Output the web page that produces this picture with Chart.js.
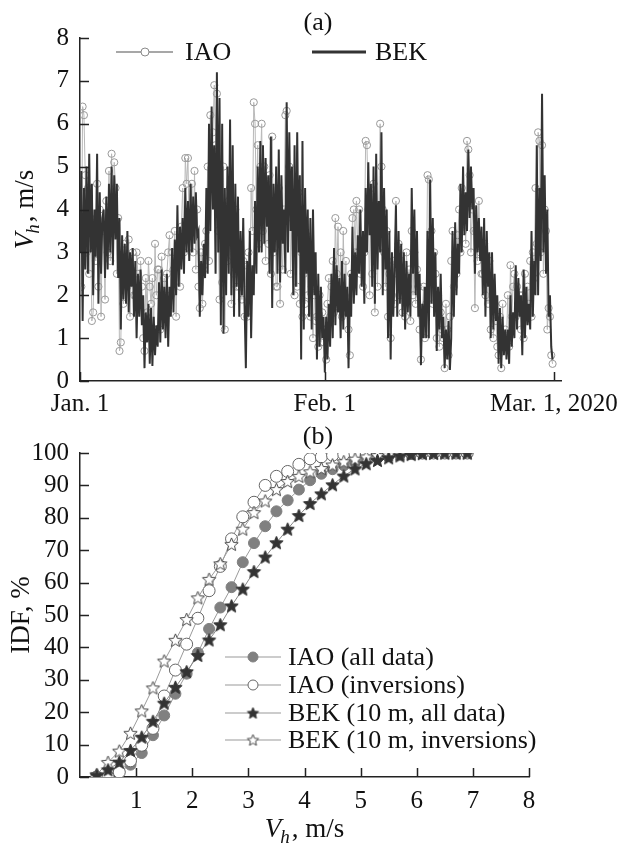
<!DOCTYPE html>
<html>
<head>
<meta charset="utf-8">
<script src="https://cdn.jsdelivr.net/npm/chart.js@4.4.1/dist/chart.umd.min.js"></script>
<style>
    html, body { margin: 0; padding: 0; background: #fff; }
    #wrap { position: relative; width: 623px; height: 844px; }
    canvas { position: absolute; left: 0; }
    #chartA { top: 0; }
    #chartB { top: 420px; }
</style>
</head>
<body>
<div id="wrap">
    <canvas id="chartA" width="623" height="420"></canvas>
    <canvas id="chartB" width="623" height="424"></canvas>
</div>
<script>
// ---- (a) time series, 6 samples per day from Jan 1 ----
const samplesPerDay = 6;
const dateTickDays = [0, 31, 60];
const dateTickLabels = ['Jan. 1', 'Feb. 1', 'Mar. 1, 2020'];

// one row = 2 days
const bekSpeed = [
    3.0,4.9,1.4,4.5,2.6,5.0, 2.5,5.3,3.0,4.6,2.0,4.0,
    2.9,5.3,1.8,4.4,2.5,3.8, 4.0,2.4,4.3,2.6,4.6,3.0,
    5.0,2.7,4.8,3.3,4.6,2.4, 3.8,1.2,3.4,1.9,3.2,1.8,
    3.5,1.6,3.0,2.2,3.1,1.5, 2.8,1.0,2.5,1.5,2.6,1.3,
    2.0,0.3,1.6,0.9,1.8,0.4, 1.7,0.35,1.5,0.6,1.3,0.8,
    2.3,0.9,2.6,1.2,2.2,1.0, 2.5,0.8,2.2,1.5,3.1,1.6,
    3.3,2.0,4.1,2.2,3.6,2.6, 3.8,2.5,4.5,3.0,4.2,2.8,
    4.6,3.0,4.3,3.2,4.4,3.4, 3.5,1.5,2.8,2.0,3.2,2.4,
    4.5,2.5,6.0,3.5,6.4,4.0, 5.5,2.5,7.2,3.0,6.6,1.3,
    6.0,1.1,4.5,2.0,5.0,2.5, 6.1,2.0,5.5,1.5,4.6,2.2,
    4.3,1.5,3.5,2.0,3.8,1.8, 0.3,2.8,1.5,3.5,1.0,2.7,
    2.0,4.2,2.5,5.0,3.0,5.6, 3.0,5.5,3.2,5.2,3.6,4.8,
    2.5,5.7,1.7,4.6,3.0,5.0, 2.5,5.4,2.3,4.8,3.2,4.0,
    2.5,6.5,3.0,5.8,3.5,5.0, 2.0,5.5,2.2,5.8,3.0,4.8,
    0.5,5.6,1.2,4.5,2.5,4.0, 1.5,3.8,1.2,4.0,2.0,3.0,
    0.5,2.5,0.8,2.2,1.0,1.5, 0.2,1.5,0.5,1.8,0.8,2.5,
    1.0,3.1,1.3,2.7,1.6,2.4, 1.0,2.8,1.2,2.5,1.5,2.2,
    0.3,2.5,1.5,3.6,1.8,3.0, 2.0,3.4,2.5,4.0,2.2,3.5,
    1.8,4.5,3.0,5.1,3.4,4.6, 2.2,5.0,1.8,5.3,2.6,4.2,
    3.0,5.8,2.0,4.5,2.6,4.0, 1.0,3.5,0.5,3.0,1.5,2.6,
    4.1,1.5,3.5,1.8,3.2,1.5, 3.0,1.2,2.8,1.6,2.5,1.5,
    4.5,2.5,4.0,2.0,3.5,1.5, 2.5,0.37,1.8,1.0,2.2,1.0,
    3.5,1.0,4.7,1.8,3.8,1.5, 3.0,0.7,2.2,1.2,2.5,1.0,
    1.5,0.3,1.2,0.5,1.4,0.26, 1.0,3.5,1.5,3.7,2.0,3.2,
    2.5,4.6,3.0,5.0,3.4,4.4, 3.5,5.4,3.8,5.0,4.0,4.5,
    2.5,4.1,3.0,3.8,2.8,3.6, 2.0,3.8,1.5,3.5,2.2,3.0,
    1.0,3.0,1.2,2.5,1.4,2.0, 0.4,1.7,0.3,1.5,0.6,1.2,
    0.5,1.2,0.4,2.0,0.8,1.6, 1.0,2.7,1.2,2.4,1.5,2.0,
    0.6,2.6,1.0,2.2,1.3,1.8, 1.2,3.5,1.5,2.8,2.0,5.5,
    2.0,4.5,2.8,6.7,3.0,4.8, 2.5,4.0,1.5,2.0,0.8,0.5
];

const iaoSpeed = [
    3.5,2.2,6.4,6.2,4.8,3.0, 4.5,2.5,3.8,1.4,1.6,3.5,
    2.8,4.6,2.2,4.0,1.5,3.6, 3.5,1.9,4.2,3.0,4.9,2.8,
    5.3,3.5,5.1,4.5,2.5,3.8, 0.7,0.9,2.8,1.8,3.2,2.4,
    2.2,3.3,1.5,2.6,3.0,2.0, 2.0,3.0,2.5,1.8,2.8,2.2,
    1.0,0.7,2.4,1.6,2.8,2.2, 1.8,2.4,1.2,3.2,2.0,2.6,
    2.6,1.2,2.9,2.0,2.4,1.6, 2.5,3.0,3.4,2.0,3.0,2.6,
    3.5,1.5,2.8,3.2,2.2,3.6, 4.5,3.0,5.2,4.6,5.2,3.4,
    3.8,4.6,3.0,4.9,2.6,4.0, 2.2,1.7,3.0,1.8,2.6,3.2,
    3.5,5.0,2.8,6.2,4.5,5.8, 6.9,5.5,6.7,3.5,1.9,4.0,
    2.3,5.0,1.2,3.5,2.8,4.2, 4.5,1.8,3.8,2.5,4.0,2.2,
    3.0,2.2,2.5,1.9,2.8,1.5, 2.7,1.5,3.0,2.2,4.5,3.5,
    6.5,6.0,4.0,5.5,3.2,5.0, 6.0,3.5,5.0,2.8,4.6,3.2,
    4.8,2.5,5.7,3.0,4.2,2.2, 2.2,4.5,1.8,3.5,2.6,4.0,
    6.2,6.3,4.0,5.0,2.5,3.8, 4.0,2.0,3.5,2.2,4.4,1.8,
    3.0,1.5,2.5,1.8,3.4,2.0, 2.6,1.5,2.2,1.0,2.0,1.4,
    1.5,0.8,2.0,0.9,1.6,1.2, 1.2,0.5,1.8,2.4,1.5,2.2,
    2.8,1.6,3.8,2.5,3.6,2.0, 3.0,1.5,3.5,2.0,2.8,1.6,
    1.2,0.6,2.5,3.8,4.0,3.0, 4.2,3.0,4.0,2.5,3.2,2.2,
    3.0,5.6,5.5,4.0,2.0,4.5, 2.5,4.6,1.6,3.5,2.2,4.0,
    6.0,5.0,4.0,3.0,2.2,3.5, 1.5,2.5,1.0,2.0,2.8,1.8,
    4.2,2.5,3.2,2.0,2.8,1.6, 2.5,1.5,3.0,2.2,2.6,1.4,
    3.5,2.0,3.0,1.8,2.6,2.2, 1.2,0.5,1.5,2.2,1.0,1.8,
    4.8,4.7,2.5,3.5,1.8,3.0, 2.5,1.0,2.0,0.8,1.6,1.2,
    1.0,0.3,1.8,1.2,0.6,1.5, 2.8,3.5,2.2,3.0,2.5,3.4,
    4.0,3.0,4.5,3.5,4.2,3.2, 5.6,5.4,4.8,3.0,4.0,3.5,
    1.7,3.5,2.8,4.2,3.0,2.5, 2.5,3.2,2.0,2.5,1.8,2.8,
    1.2,2.0,1.0,1.8,1.4,0.8, 0.6,1.5,0.3,1.8,0.8,1.2,
    1.0,2.0,0.8,2.7,1.5,2.2, 2.5,1.5,2.2,1.8,2.0,1.2,
    2.0,1.0,2.5,1.5,2.2,1.8, 2.8,1.5,3.0,2.4,4.5,3.2,
    5.8,5.6,3.0,5.5,2.5,4.0, 3.5,1.2,1.7,1.5,0.6,0.4
];

// ---- (b) IDF curves ----
const idfSpeed = [0.3,0.5,0.7,0.9,1.1,1.3,1.5,1.7,1.9,2.1,2.3,2.5,2.7,2.9,3.1,3.3,3.5,
                  3.7,3.9,4.1,4.3,4.5,4.7,4.9,5.1,5.3,5.5,5.7,5.9,6.1,6.3,6.5,6.7,6.9];
const idfIaoAll = [0.2,0.5,1.5,3.8,7.4,12.9,19.0,25.7,31.9,38.3,45.7,52.3,58.6,66.3,72.2,77.4,82.0,
                   85.4,88.7,91.6,93.6,95.0,96.2,97.2,98.0,98.6,99.1,99.5,99.7,99.9,100,100,100,100];
const idfIaoInv = [0,0,1.5,5.0,9.8,15.0,25.0,33.0,41.0,49.0,57.5,65.0,73.5,80.3,84.8,90.0,92.8,
                   94.3,96.5,98.2,98.8,99.3,99.6,99.8,100,100,100,100,100,100,100,100,100,100];
const idfBekAll = [0.5,2.2,4.6,8.2,12.3,17.2,22.8,27.7,32.5,37.5,42.3,47.0,52.8,58.0,63.4,67.9,72.3,
                   76.5,80.7,84.4,87.4,90.2,92.9,95.1,96.7,97.7,98.5,99.1,99.5,99.8,99.9,100,100,100];
const idfBekInv = [0.8,4.5,8.0,13.5,20.4,27.5,35.8,42.2,48.6,55.3,61.0,65.8,71.8,76.5,81.6,85.2,88.7,
                   91.2,92.8,94.2,95.2,96.3,97.3,98.1,98.8,99.2,99.5,99.7,99.9,100,100,100,100,100];
const idfLabels = ['IAO (all data)', 'IAO (inversions)', 'BEK (10 m, all data)', 'BEK (10 m, inversions)'];

const SERIF = '"Liberation Serif", "Times New Roman", serif';
const TEXT = '#111';
const AXIS = '#222';

function makeStar(r, fill, stroke) {
    const c = document.createElement('canvas');
    const s = Math.ceil(r * 2 + 3);
    c.width = s; c.height = s;
    const g = c.getContext('2d');
    g.translate(s / 2, s / 2 + 0.5);
    g.beginPath();
    for (let i = 0; i < 10; i++) {
        const rad = i % 2 === 0 ? r : r * 0.45;
        const a = -Math.PI / 2 + i * Math.PI / 5;
        g.lineTo(rad * Math.cos(a), rad * Math.sin(a));
    }
    g.closePath();
    g.fillStyle = fill;
    g.fill();
    g.lineWidth = 1;
    g.strokeStyle = stroke;
    g.stroke();
    return c;
}
const starFull = makeStar(7, '#333', '#333');
const starOpen = makeStar(7, '#fff', '#444');
const starFullSmall = makeStar(6, '#333', '#333');
const starOpenSmall = makeStar(6, '#fff', '#444');

function drawVh(ctx, cx, cy, rotated) {
    ctx.save();
    ctx.translate(cx, cy);
    if (rotated) ctx.rotate(-Math.PI / 2);
    const fBig = 'italic 27px ' + SERIF;
    const fSub = 'italic 19px ' + SERIF;
    const fReg = '27px ' + SERIF;
    ctx.font = fBig; const w1 = ctx.measureText('V').width;
    ctx.font = fSub; const w2 = ctx.measureText('h').width;
    ctx.font = fReg; const w3 = ctx.measureText(', m/s').width;
    let x0 = -(w1 + w2 + w3 + 1) / 2;
    ctx.fillStyle = TEXT;
    ctx.textAlign = 'left';
    ctx.textBaseline = 'alphabetic';
    ctx.font = fBig; ctx.fillText('V', x0, 9); x0 += w1;
    ctx.font = fSub; ctx.fillText('h', x0 - 1, 15); x0 += w2 + 1;
    ctx.font = fReg; ctx.fillText(', m/s', x0, 9);
    ctx.restore();
}

function drawInwardTicks(ctx, area, xs, ys) {
    ctx.save();
    ctx.strokeStyle = AXIS;
    ctx.lineWidth = 1.5;
    ctx.beginPath();
    ys.ticks.forEach(t => {
        const py = Math.round(ys.getPixelForValue(t.value)) + 0.5;
        ctx.moveTo(area.left, py);
        ctx.lineTo(area.left + 9, py);
    });
    xs.ticks.forEach(t => {
        const px = Math.round(xs.getPixelForValue(t.value)) + 0.5;
        ctx.moveTo(px, area.bottom);
        ctx.lineTo(px, area.bottom - 9);
    });
    ctx.stroke();
    ctx.restore();
}

const decorA = {
    id: 'decorA',
    afterDraw(chart) {
        const { ctx, chartArea, scales } = chart;
        drawInwardTicks(ctx, chartArea, scales.x, scales.y);
        ctx.save();
        ctx.fillStyle = TEXT;
        ctx.font = '26px ' + SERIF;
        ctx.textAlign = 'center';
        ctx.textBaseline = 'middle';
        ctx.fillText('(a)', 318, 23);
        // legend
        ctx.textAlign = 'left';
        ctx.strokeStyle = '#8a8a8a';
        ctx.lineWidth = 1.5;
        ctx.beginPath(); ctx.moveTo(116, 52); ctx.lineTo(173, 52); ctx.stroke();
        ctx.beginPath(); ctx.arc(145, 52, 4, 0, Math.PI * 2);
        ctx.fillStyle = '#fff'; ctx.fill(); ctx.lineWidth = 1; ctx.stroke();
        ctx.fillStyle = TEXT;
        ctx.fillText('IAO', 185, 53);
        ctx.strokeStyle = '#333';
        ctx.lineWidth = 3;
        ctx.beginPath(); ctx.moveTo(312, 52); ctx.lineTo(366, 52); ctx.stroke();
        ctx.fillText('BEK', 375, 53);
        ctx.restore();
        drawVh(ctx, 24, (chartArea.top + chartArea.bottom) / 2, true);
    }
};

const decorB = {
    id: 'decorB',
    afterDraw(chart) {
        const { ctx, chartArea, scales } = chart;
        drawInwardTicks(ctx, chartArea, scales.x, scales.y);
        ctx.save();
        ctx.fillStyle = TEXT;
        ctx.font = '26px ' + SERIF;
        ctx.textAlign = 'center';
        ctx.textBaseline = 'middle';
        ctx.fillText('(b)', 318, 17);
        // legend
        const rows = [237, 265, 293, 320];
        chart.data.datasets.forEach((ds, i) => {
            const y = rows[i];
            ctx.strokeStyle = '#999';
            ctx.lineWidth = 1;
            ctx.beginPath(); ctx.moveTo(225, y); ctx.lineTo(281, y); ctx.stroke();
            if (i < 2) {
                ctx.beginPath(); ctx.arc(253, y, 5, 0, Math.PI * 2);
                ctx.fillStyle = ds.pointBackgroundColor; ctx.fill();
                ctx.strokeStyle = ds.pointBorderColor; ctx.stroke();
            } else {
                const img = i === 2 ? starFullSmall : starOpenSmall;
                ctx.drawImage(img, 253 - img.width / 2, y - img.height / 2);
            }
            ctx.fillStyle = TEXT;
            ctx.textAlign = 'left';
            ctx.font = '26px ' + SERIF;
            ctx.fillText(ds.label, 288, y + 1);
        });
        // y title
        ctx.translate(22, (chartArea.top + chartArea.bottom) / 2);
        ctx.rotate(-Math.PI / 2);
        ctx.textAlign = 'center';
        ctx.font = '27px ' + SERIF;
        ctx.fillText('IDF, %', 0, 0);
        ctx.restore();
        drawVh(ctx, (chartArea.left + chartArea.right) / 2, 408, false);
    }
};

const tickFont = { family: SERIF, size: 25 };
const noOverflow = s => { s.paddingLeft = 0; s.paddingRight = 0; };

new Chart(document.getElementById('chartA'), {
    type: 'line',
    data: {
        datasets: [
            {
                label: 'BEK',
                data: bekSpeed.map((v, i) => ({ x: i / samplesPerDay, y: v })),
                borderColor: '#333',
                borderWidth: 2,
                pointRadius: 0,
                tension: 0,
                order: 1
            },
            {
                label: 'IAO',
                data: iaoSpeed.map((v, i) => ({ x: i / samplesPerDay, y: v })),
                borderColor: '#b8b8b8',
                borderWidth: 1,
                pointRadius: 3.6,
                pointBorderWidth: 1,
                pointBorderColor: '#999',
                pointBackgroundColor: 'rgba(255,255,255,0)',
                tension: 0,
                order: 2
            }
        ]
    },
    options: {
        responsive: false,
        animation: false,
        devicePixelRatio: 1,
        layout: { padding: { left: 0, right: 62, top: 38, bottom: 0 } },
        plugins: { legend: { display: false }, tooltip: { enabled: false } },
        scales: {
            x: {
                type: 'linear',
                min: 0,
                max: 60.9,
                afterBuildTicks: s => { s.ticks = dateTickDays.map(v => ({ value: v })); },
                afterFit: s => { s.height = 39; noOverflow(s); },
                ticks: {
                    autoSkip: false,
                    maxRotation: 0,
                    padding: 8,
                    color: TEXT,
                    font: tickFont,
                    callback: v => dateTickLabels[dateTickDays.indexOf(v)]
                },
                grid: { display: false, drawTicks: false },
                border: { display: true, color: AXIS, width: 1.5 }
            },
            y: {
                min: 0,
                max: 8,
                afterFit: s => { s.width = 80; },
                ticks: { stepSize: 1, autoSkip: false, padding: 11, color: TEXT, font: tickFont },
                grid: { display: false, drawTicks: false },
                border: { display: true, color: AXIS, width: 1.5 }
            }
        }
    },
    plugins: [decorA]
});

new Chart(document.getElementById('chartB'), {
    type: 'line',
    data: {
        datasets: [
            {
                label: idfLabels[0],
                data: idfIaoAll,
                borderColor: '#9a9a9a',
                pointStyle: 'circle',
                pointRadius: 5.5,
                pointBackgroundColor: '#808080',
                pointBorderColor: '#808080',
                order: 4
            },
            {
                label: idfLabels[1],
                data: idfIaoInv,
                borderColor: '#9a9a9a',
                pointStyle: 'circle',
                pointRadius: 6,
                pointBackgroundColor: '#fff',
                pointBorderColor: '#666',
                order: 3
            },
            {
                label: idfLabels[2],
                data: idfBekAll,
                borderColor: '#888',
                pointStyle: starFull,
                order: 1
            },
            {
                label: idfLabels[3],
                data: idfBekInv,
                borderColor: '#9a9a9a',
                pointStyle: starOpen,
                order: 2
            }
        ].map(d => Object.assign({ tension: 0, borderWidth: 1 }, d,
            { data: d.data.map((v, i) => ({ x: idfSpeed[i], y: v })) }))
    },
    options: {
        responsive: false,
        animation: false,
        devicePixelRatio: 1,
        layout: { padding: { left: 0, right: 94, top: 33, bottom: 0 } },
        plugins: { legend: { display: false }, tooltip: { enabled: false } },
        scales: {
            x: {
                type: 'linear',
                min: 0,
                max: 8,
                afterBuildTicks: s => { s.ticks = s.ticks.filter(t => t.value > 0); },
                afterFit: s => { s.height = 67; noOverflow(s); },
                ticks: { stepSize: 1, autoSkip: false, padding: 9, color: TEXT, font: tickFont, maxRotation: 0 },
                grid: { display: false, drawTicks: false },
                border: { display: true, color: AXIS, width: 1.5 }
            },
            y: {
                min: 0,
                max: 100,
                afterFit: s => { s.width = 80; },
                ticks: { stepSize: 10, autoSkip: false, padding: 11, color: TEXT, font: tickFont },
                grid: { display: false, drawTicks: false },
                border: { display: true, color: AXIS, width: 1.5 }
            }
        }
    },
    plugins: [decorB]
});
</script>
</body>
</html>
